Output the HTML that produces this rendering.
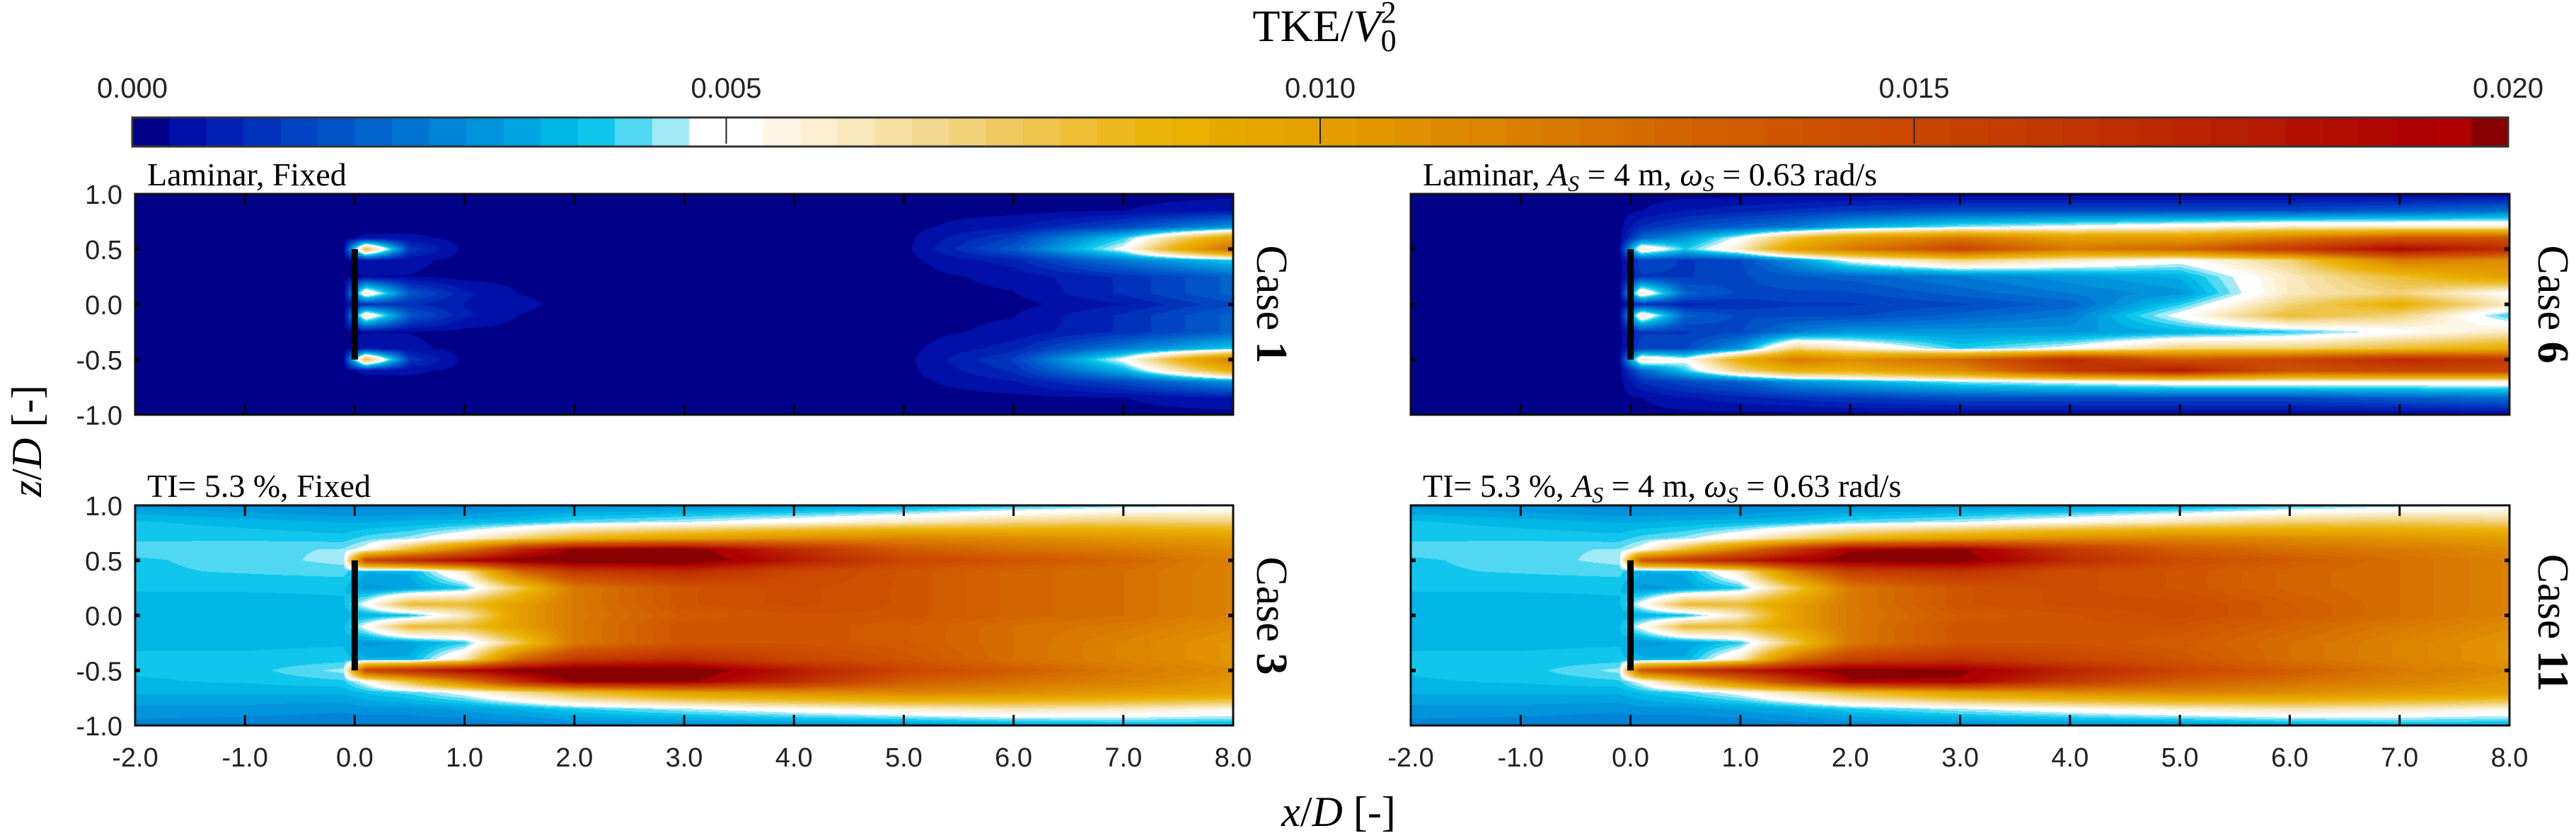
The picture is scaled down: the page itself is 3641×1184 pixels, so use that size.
<!DOCTYPE html>
<html><head><meta charset="utf-8">
<style>
html,body{margin:0;padding:0;background:#fff;}
#wrap{position:relative;width:3641px;height:1184px;overflow:hidden;background:#fff;}
canvas{position:absolute;}
svg{position:absolute;left:0;top:0;}
.s{font-family:"Liberation Sans",sans-serif;fill:#222;}
.r{font-family:"Liberation Serif",serif;fill:#000;}
</style></head>
<body>
<div id="wrap">
<canvas id="c1" width="1552" height="312" style="left:191px;top:274px"></canvas>
<canvas id="c6" width="1553" height="312" style="left:1994px;top:274px"></canvas>
<canvas id="c3" width="1552" height="311" style="left:191px;top:714px"></canvas>
<canvas id="c11" width="1553" height="311" style="left:1994px;top:714px"></canvas>
<canvas id="cb" width="3358" height="40" style="left:187px;top:167px"></canvas>
<svg id="ov" width="3641" height="1184">
<text class="r" x="1872" y="58" font-size="64" text-anchor="middle">TKE/<tspan font-style="italic">V</tspan><tspan font-size="44" dy="14">0</tspan><tspan font-size="44" dx="-22" dy="-40">2</tspan></text>
<text class="r" x="208" y="262" font-size="46">Laminar, Fixed</text>
<text class="r" x="2011" y="262" font-size="46">Laminar, <tspan font-style="italic">A</tspan><tspan font-style="italic" font-size="32" dy="8">S</tspan><tspan dy="-8"> = 4 m, </tspan><tspan font-style="italic">ω</tspan><tspan font-style="italic" font-size="32" dy="8">S</tspan><tspan dy="-8"> = 0.63 rad/s</tspan></text>
<text class="r" x="208" y="702" font-size="46">TI= 5.3 %, Fixed</text>
<text class="r" x="2011" y="702" font-size="46">TI= 5.3 %, <tspan font-style="italic">A</tspan><tspan font-style="italic" font-size="32" dy="8">S</tspan><tspan dy="-8"> = 4 m, </tspan><tspan font-style="italic">ω</tspan><tspan font-style="italic" font-size="32" dy="8">S</tspan><tspan dy="-8"> = 0.63 rad/s</tspan></text>
<text class="r" font-size="62" text-anchor="middle" transform="translate(1797,430) rotate(90)" dy="20">Case <tspan font-weight="bold">1</tspan></text>
<text class="r" font-size="62" text-anchor="middle" transform="translate(3608,430) rotate(90)" dy="20">Case <tspan font-weight="bold">6</tspan></text>
<text class="r" font-size="62" text-anchor="middle" transform="translate(1797,870) rotate(90)" dy="20">Case <tspan font-weight="bold">3</tspan></text>
<text class="r" font-size="62" text-anchor="middle" transform="translate(3608,880) rotate(90)" dy="20">Case <tspan font-weight="bold">11</tspan></text>
<text class="r" font-size="60" text-anchor="middle" transform="translate(38,623) rotate(-90)" dy="20"><tspan font-style="italic">z</tspan>/<tspan font-style="italic">D</tspan> [-]</text>
<text class="r" font-size="60" text-anchor="middle" x="1892" y="1167"><tspan font-style="italic">x</tspan>/<tspan font-style="italic">D</tspan> [-]</text>
</svg>
</div>
<script>
// ---- data ----
const cbTicks = [0.000, 0.005, 0.010, 0.015, 0.020];
const cbTickLabels = ["0.000", "0.005", "0.010", "0.015", "0.020"];
const xTicks = [-2, -1, 0, 1, 2, 3, 4, 5, 6, 7, 8];
const xTickLabels = ["-2.0", "-1.0", "0.0", "1.0", "2.0", "3.0", "4.0", "5.0", "6.0", "7.0", "8.0"];
const zTicks = [1, 0.5, 0, -0.5, -1];
const zTickLabels = ["1.0", "0.5", "0.0", "-0.5", "-1.0"];
const xCols = [-2, -1, -0.1, 0.1, 0.5, 1, 1.5, 2, 3, 4, 5, 6, 7, 8];
const zRows = [1.0, 0.85, 0.7, 0.6, 0.5, 0.4, 0.25, 0.1, 0, -0.1, -0.25, -0.4, -0.5, -0.6, -0.7, -0.85, -1.0];
// TKE/V0^2 in units of 1e-3
const case1Field = [
[0.2,0.2,0.2,0.2,0.2,0.2,0.2,0.2,0.2,0.2,0.2,0.2,0.2,0.2],
[0.2,0.2,0.2,0.2,0.2,0.2,0.2,0.2,0.2,0.2,0.2,0.2,0.3,0.6],
[0.2,0.2,0.2,0.2,0.2,0.2,0.2,0.2,0.2,0.2,0.2,0.6,1.5,3],
[0.2,0.2,0.2,0.4,0.4,0.2,0.2,0.2,0.2,0.2,0.2,1.3,4,10],
[0.2,0.2,0.2,8,1.2,0.2,0.2,0.2,0.2,0.2,0.2,1.8,5,13],
[0.2,0.2,0.2,0.6,0.4,0.2,0.2,0.2,0.2,0.2,0.2,0.8,2.5,4],
[0.2,0.2,0.2,0.3,0.3,0.2,0.2,0.2,0.2,0.2,0.2,0.4,1,2],
[0.2,0.2,0.2,6,1.8,0.7,0.3,0.2,0.2,0.2,0.2,0.3,1,2],
[0.2,0.2,0.2,1,1,0.6,0.4,0.2,0.2,0.2,0.2,0.2,0.6,1.5],
[0.2,0.2,0.2,6,1.8,0.7,0.3,0.2,0.2,0.2,0.2,0.3,1,2],
[0.2,0.2,0.2,0.3,0.3,0.2,0.2,0.2,0.2,0.2,0.2,0.4,1,2],
[0.2,0.2,0.2,0.6,0.4,0.2,0.2,0.2,0.2,0.2,0.2,0.8,2.5,4],
[0.2,0.2,0.2,8,1.2,0.2,0.2,0.2,0.2,0.2,0.2,1.3,5,12],
[0.2,0.2,0.2,0.4,0.4,0.2,0.2,0.2,0.2,0.2,0.2,1.0,3.5,9],
[0.2,0.2,0.2,0.2,0.2,0.2,0.2,0.2,0.2,0.2,0.2,0.6,1.5,3],
[0.2,0.2,0.2,0.2,0.2,0.2,0.2,0.2,0.2,0.2,0.2,0.2,0.3,0.6],
[0.2,0.2,0.2,0.2,0.2,0.2,0.2,0.2,0.2,0.2,0.2,0.2,0.2,0.2]];
const case6Field = [
[0.2,0.2,0.2,0.2,0.2,0.2,0.2,0.2,0.2,0.2,0.2,0.2,0.2,0.2],
[0.2,0.2,0.2,0.3,0.6,0.8,1,1.2,1.5,1.5,1.5,1.5,1.8,2.2],
[0.2,0.2,0.2,1,1.5,2,2.5,3.5,4.5,5,5.5,6,6,6],
[0.2,0.2,0.2,2,3,5,8,10,12,10,10,12,14,14],
[0.2,0.2,0.3,6,4,6,10,12,15,12,13,16,19,17],
[0.2,0.2,0.2,1.5,1.2,1.5,3,5,7,6,5,7,12,11],
[0.2,0.2,0.2,1.2,1.2,1.5,1.8,2,2.5,3,3.5,6,8,10],
[0.2,0.2,0.2,6,2,1.5,1.5,1.5,2,2.5,3,6,7,5],
[0.2,0.2,0.2,1,0.8,1,1.2,1.2,1.5,2,4,7,9,6],
[0.2,0.2,0.2,6,2,1.5,1.5,1.5,2,2.5,5,8,7,4],
[0.2,0.2,0.2,1.2,1.2,1.5,2.5,3,3,3,3.5,4,5,6],
[0.2,0.2,0.2,1.5,1.5,3,7,6,4,5,7,7,8,9],
[0.2,0.2,0.3,6,5,9,12,11,13,17,14,15,17,16],
[0.2,0.2,0.2,2,4,7,9,9,11,16,18,14,15,15],
[0.2,0.2,0.2,1,1.5,2,3,3.5,4.5,5,5.5,5.5,5.5,5.5],
[0.2,0.2,0.2,0.3,0.6,0.8,1,1.2,1.5,1.5,1.5,1.5,1.8,2.2],
[0.2,0.2,0.2,0.2,0.2,0.2,0.2,0.2,0.2,0.2,0.2,0.2,0.2,0.2]];
const case3Field = [
[3.0,2.8,2.6,2.6,2.6,2.6,2.7,2.8,2.9,3.0,3.2,3.8,4.3,4.6],
[3.8,3.6,3.4,3.4,3.5,3.6,3.8,4.2,4.6,5.2,6.0,6.8,7.2,7.0],
[4.0,4.0,3.9,4.2,4.5,5.5,7,8.5,10,11,11.5,11,10.5,10.2],
[4.2,4.3,4.4,5,8,12,17,20,20.5,17,13.5,12.5,12,11],
[4.0,4.2,4.5,15,17,19,20.5,21,21,18,15,14,13,11.5],
[4.0,4.1,4.2,3.5,3.5,6,13,16,17,15,14,13,12.5,11.5],
[3.8,3.8,3.8,3.0,3.2,4,7.5,12,14,14.5,14,13,12.5,11.5],
[3.6,3.6,3.7,5,8,8,10,12,14,14.5,14,13,12.5,11.5],
[3.5,3.5,3.6,3.5,3.8,6,10,12,13.5,14,14,13,12.5,11.5],
[3.6,3.6,3.7,5,8,8,10,12,14,14,13.5,12.5,12,11],
[3.7,3.7,3.7,3.0,3.2,4,7.5,12,14,14,13.5,12.5,11.5,10.5],
[3.8,3.8,3.9,3.5,3.5,6,13,16,17,15,14,12.5,11.5,10.5],
[3.8,3.9,4.5,15,17,19,20.5,21,21,18,15,13.5,12,11],
[3.7,3.8,4,5,8,12,17,20,20,17,13.5,12.5,11.5,10.5],
[3.5,3.5,3.5,3.8,4.2,5,6.5,8,10,11,11.5,11,10.5,10],
[3.0,3.0,2.9,3.0,3.0,3.2,3.5,4,4.6,5.2,5.8,6.2,6.0,5.5],
[2.7,2.6,2.5,2.5,2.5,2.5,2.6,2.7,2.8,2.9,3.0,3.3,3.5,3.6]];
const case11Field = [
[3.0,2.8,2.6,2.6,2.6,2.6,2.7,2.8,2.9,3.0,3.3,3.9,4.4,4.7],
[3.8,3.6,3.4,3.4,3.5,3.6,3.8,4.2,4.6,5.3,6.2,7.0,7.3,7.0],
[4.0,4.0,3.9,4.2,4.5,5.5,7,8.5,10,11,11.5,11,10.5,10.2],
[4.2,4.3,4.4,5,8,12,16,19.5,20,16,13.5,12.5,12,11],
[4.0,4.2,4.5,14,16,18,19.5,20.5,20.5,17,14.5,13.5,12.5,11.5],
[4.0,4.1,4.2,3.5,3.5,6,12,15.5,16.5,14.5,14,13,12.5,11.5],
[3.8,3.8,3.8,3.0,3.2,4,7.5,12,14,14.5,14,13,12.5,11.5],
[3.6,3.6,3.7,5,8,8,10,12,14,14.5,14.5,13.5,12.5,11.5],
[3.5,3.5,3.6,3.5,3.8,6,10,12,13.5,14,14.5,13.5,12.5,11.5],
[3.6,3.6,3.7,5,8,8,10,12,14,14,14,13,12,11],
[3.7,3.7,3.7,3.0,3.2,4,7.5,12,14,14,13.5,12.5,11.5,10.5],
[3.8,3.8,3.9,3.5,3.5,6,12.5,15.5,16.5,15,14,12.5,11.5,10.5],
[3.8,3.9,4.5,14,16,18,19.5,20.5,20,17.5,15,13.5,12,11],
[3.7,3.8,4,5,8,12,16,19.5,19.5,16,13.5,12.5,11.5,10.5],
[3.5,3.5,3.5,3.8,4.2,5,6.5,8,10,11,11.5,11,10.5,10],
[3.0,3.0,2.9,3.0,3.0,3.2,3.5,4,4.6,5.2,5.8,6.2,6.0,5.5],
[2.7,2.6,2.5,2.5,2.5,2.5,2.6,2.7,2.8,2.9,3.0,3.3,3.5,3.6]];
const cmap = ["#000088","#0010a8","#0020b4","#0032bc","#0044c4","#0054c8","#0064cc","#0074d2","#0084d8","#0094dc","#00a4e0","#00b6e6","#10c6ec","#50d8f2","#a0eaf8","#ffffff","#ffffff",
"#fef6e6","#fbefd0","#f9e8bc","#f6e0a4","#f4da8e","#f2d278","#f0ca60","#efc44a","#eebe34","#ecb81e","#ebb40a","#eaaf00","#e8aa00","#e6a500","#e5a100",
"#e49c00","#e29600","#e09000","#de8a00","#dc8400","#da7e00","#d97800","#d77200","#d56c00","#d46600","#d26000","#d05a00","#cf5500","#cd5000","#cb4c00","#ca4800",
"#c84400","#c64000","#c43c00","#c23800","#c03300","#be2e00","#bc2900","#ba2400","#b81e00","#b61800","#b41200","#b20c00","#b00600","#ae0000","#b00000","#880000"];
// ---- rendering ----
const NS = "http://www.w3.org/2000/svg";
const ov = document.getElementById('ov');
const rgb = cmap.map(h => [parseInt(h.substr(1,2),16), parseInt(h.substr(3,2),16), parseInt(h.substr(5,2),16)]);
const vmax = 20;
function colorIndex(v){ let i = Math.floor(v / vmax * cmap.length); return Math.max(0, Math.min(cmap.length - 1, i)); }
function seg(arr, v, desc){
  for (let i = 0; i < arr.length - 1; i++){
    const a = arr[i], b = arr[i+1];
    if (desc ? (v <= a && v >= b) : (v >= a && v <= b)) return [i, (v - a) / (b - a)];
  }
  return desc ? (v > arr[0] ? [0,0] : [arr.length-2,1]) : (v < arr[0] ? [0,0] : [arr.length-2,1]);
}
function drawField(id, field){
  const cv = document.getElementById(id), ctx = cv.getContext('2d');
  const w = cv.width, h = cv.height, img = ctx.createImageData(w, h), d = img.data;
  const xs = [], zs = [];
  for (let px = 0; px < w; px++) xs.push(seg(xCols, -2 + (px + 0.5) / w * 10, false));
  for (let py = 0; py < h; py++) zs.push(seg(zRows, 1 - (py + 0.5) / h * 2, true));
  for (let py = 0; py < h; py++){
    const [j, tz] = zs[py];
    for (let px = 0; px < w; px++){
      const [i, tx] = xs[px];
      const v = (field[j][i]*(1-tx) + field[j][i+1]*tx)*(1-tz) + (field[j+1][i]*(1-tx) + field[j+1][i+1]*tx)*tz;
      const c = rgb[colorIndex(v)], k = (py*w + px)*4;
      d[k] = c[0]; d[k+1] = c[1]; d[k+2] = c[2]; d[k+3] = 255;
    }
  }
  ctx.putImageData(img, 0, 0);
}
drawField('c1', case1Field);
drawField('c6', case6Field);
drawField('c3', case3Field);
drawField('c11', case11Field);
// colorbar
(function(){
  const cv = document.getElementById('cb'), ctx = cv.getContext('2d');
  const n = cmap.length;
  for (let i = 0; i < n; i++){
    ctx.fillStyle = cmap[i];
    const x0 = Math.round(i * cv.width / n), x1 = Math.round((i + 1) * cv.width / n);
    ctx.fillRect(x0, 0, x1 - x0, cv.height);
  }
})();
function mk(tag, attrs){ const e = document.createElementNS(NS, tag); for (const k in attrs) e.setAttribute(k, attrs[k]); ov.appendChild(e); return e; }
const cbX = v => 187 + v / 0.020 * 3358;
let cbf = mk('rect', {x:187, y:166, width:3358, height:41, fill:'none', stroke:'#333', 'stroke-width':3});


cbTicks.forEach((t, i) => {
  if (i > 0 && i < cbTicks.length - 1){
    const l = mk('line', {x1:cbX(t), x2:cbX(t), y1:167, y2:203, stroke:'#222', 'stroke-width':2});
    
    
  }
  const tx = mk('text', {x:cbX(t), y:138, 'font-size':40, 'text-anchor':'middle', class:'s'});
  tx.textContent = cbTickLabels[i];
  
  
});
const panels = [
  {x:191, y:274, w:1552, h:312, left:true, bottom:false, name:'case1'},
  {x:1994, y:274, w:1553, h:312, left:false, bottom:false, name:'case6'},
  {x:191, y:714, w:1552, h:311, left:true, bottom:true, name:'case3'},
  {x:1994, y:714, w:1553, h:311, left:false, bottom:true, name:'case11'}];
panels.forEach(p => {
  const X = v => p.x + (v + 2) / 10 * p.w;
  const Z = v => p.y + (1 - v) / 2 * p.h;
  const rot = mk('rect', {x:X(0) - 4.5, y:Z(0.5), width:9, height:Z(-0.5) - Z(0.5), fill:'#000'});
  
  
  const fr = mk('rect', {x:p.x, y:p.y, width:p.w, height:p.h, fill:'none', stroke:'#111', 'stroke-width':3});
  
  
  xTicks.forEach((t, i) => {
    if (t > -2 && t < 8){
      const a = mk('line', {x1:X(t), x2:X(t), y1:p.y, y2:p.y + 15, stroke:'#000', 'stroke-width':3});
      
      
      const b = mk('line', {x1:X(t), x2:X(t), y1:p.y + p.h, y2:p.y + p.h - 15, stroke:'#000', 'stroke-width':3});
      
      
    }
    if (p.bottom){
      const tx = mk('text', {x:X(t), y:1083, 'font-size':38, 'text-anchor':'middle', class:'s'});
      tx.textContent = xTickLabels[i];
      
      
    }
  });
  zTicks.forEach((t, i) => {
    if (t > -1 && t < 1){
      const a = mk('line', {x1:p.x, x2:p.x + 7, y1:Z(t), y2:Z(t), stroke:'#000', 'stroke-width':5});
      
      
      const b = mk('line', {x1:p.x + p.w, x2:p.x + p.w - 7, y1:Z(t), y2:Z(t), stroke:'#000', 'stroke-width':5});
      
      
    }
    if (p.left){
      const tx = mk('text', {x:173, y:Z(t) + 14, 'font-size':38, 'text-anchor':'end', class:'s'});
      tx.textContent = zTickLabels[i];
      
      
    }
  });
});
</script>
</body></html>
